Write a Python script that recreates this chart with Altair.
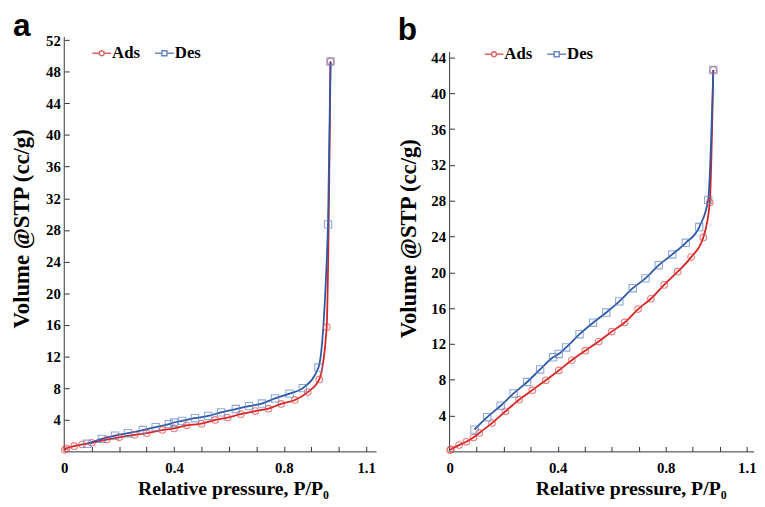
import altair as alt
import pandas as pd

SERIES = ["Ads", "Des"]
X_LABELS = [0, 0.4, 0.8, 1.1]
X_TICKS = [0.1, 0.2, 0.3, 0.4, 0.5, 0.6, 0.7, 0.8, 0.9, 1.0, 1.1]
A_Y_TICKS = [4, 8, 12, 16, 20, 24, 28, 32, 36, 40, 44, 48, 52]
B_Y_TICKS = [4, 8, 12, 16, 20, 24, 28, 32, 36, 40, 44]
A_AXIS_TOP = 52.4
B_AXIS_TOP = 44.6

# Panel a
a_ads_x = [0.002, 0.008, 0.036, 0.065, 0.10, 0.155, 0.20, 0.256, 0.30, 0.357, 0.40, 0.446,
           0.50, 0.55, 0.595, 0.643, 0.696, 0.744, 0.79, 0.84, 0.887, 0.929, 0.956, 0.970]
a_ads_y = [0.20, 0.38, 0.66, 0.87, 1.08, 1.49, 1.78, 2.10, 2.30, 2.70, 2.90, 3.30,
           3.50, 3.98, 4.27, 4.70, 5.10, 5.40, 6.00, 6.50, 7.50, 9.10, 15.7, 49.3]
a_des_x = [0.083, 0.137, 0.185, 0.232, 0.286, 0.333, 0.381, 0.40, 0.429, 0.476, 0.524,
           0.571, 0.625, 0.673, 0.72, 0.768, 0.821, 0.869, 0.926, 0.961, 0.970]
a_des_y = [0.96, 1.58, 1.99, 2.30, 2.70, 3.07, 3.44, 3.65, 3.86, 4.19, 4.48,
           4.93, 5.35, 5.72, 6.05, 6.70, 7.30, 8.00, 10.6, 28.7, 49.3]

# Panel b
b_ads_x = [0.002, 0.005, 0.035, 0.062, 0.088, 0.11, 0.157, 0.207, 0.257, 0.306, 0.356, 0.404,
           0.452, 0.502, 0.552, 0.60, 0.648, 0.698, 0.745, 0.794, 0.844, 0.894, 0.939, 0.963, 0.976]
b_ads_y = [0.15, 0.22, 0.70, 1.07, 1.54, 2.06, 3.16, 4.48, 5.77, 6.84, 7.94, 9.04,
           10.18, 11.25, 12.27, 13.38, 14.40, 15.90, 17.05, 18.60, 20.07, 21.70, 23.90, 27.8, 42.6]
b_des_x = [0.092, 0.139, 0.189, 0.237, 0.287, 0.335, 0.383, 0.404, 0.431, 0.481, 0.531,
           0.58, 0.628, 0.678, 0.725, 0.774, 0.824, 0.874, 0.924, 0.957, 0.976]
b_des_y = [2.43, 3.82, 5.10, 6.47, 7.75, 9.15, 10.51, 10.88, 11.61, 13.09, 14.37,
           15.51, 16.76, 18.23, 19.33, 20.80, 22.00, 23.30, 25.06, 28.1, 42.6]

RED_LINE = "#d42424"
RED_MARK = "#e04a4a"
BLUE_LINE = "#2d58a6"
BLUE_MARK = "#5f86c8"
AX = "#333333"
SERIF = "Liberation Serif"

# legend symbols: a short line with a small open marker on it
PATH_CIRCLE = ("M-1,0H-0.27M0.27,0H1M0.27,0L0.234,0.135L0.135,0.234L0,0.27L-0.135,0.234"
               "L-0.234,0.135L-0.27,0L-0.234,-0.135L-0.135,-0.234L0,-0.27L0.135,-0.234"
               "L0.234,-0.135Z")
PATH_SQUARE = "M-1,0H-0.27M0.27,0H1M-0.27,-0.27H0.27V0.27H-0.27Z"


def panel(letter, ads_x, ads_y, des_x, des_y, xmax, ymax, axis_top, yticks, width, height,
          title_dx, title_offset, leg_x, leg_y, xt_x, xt_y, yt_x, yt_y):
    ads = pd.DataFrame({"p": ads_x, "v": ads_y})
    des = pd.DataFrame({"p": des_x, "v": des_y})
    xs = alt.Scale(domain=[0, xmax], nice=False, zero=False)
    ys = alt.Scale(domain=[0, ymax], nice=False, zero=False)

    x_main = alt.X("p:Q", scale=xs, axis=alt.Axis(
        values=X_LABELS, labelExpr="format(datum.value, '.1~f')", ticks=False,
        tickSize=0, grid=False, domainColor=AX, domainWidth=1, labelFont=SERIF,
        labelFontWeight="bold", labelFontSize=15, labelColor="black", labelPadding=9,
        labelFlush=False, labelOverlap=False, title="Relative pressure, P/P\u2080",
        titleFont=SERIF, titleFontSize=20, titleFontWeight="bold", titleColor="black",
        titleX=xt_x, titleY=xt_y, titleAlign="center", titleBaseline="alphabetic"))
    y_main = alt.Y("v:Q", scale=ys, axis=alt.Axis(
        values=yticks, format="d", ticks=False, tickSize=0, grid=False,
        domain=False, labelFont=SERIF, labelFontWeight="bold",
        labelFontSize=15, labelColor="black", labelPadding=4, labelFlush=False,
        labelOverlap=False, title="Volume @STP (cc/g)", titleFont=SERIF,
        titleFontSize=23, titleFontWeight="bold", titleColor="black",
        titleX=yt_x, titleY=yt_y, titleAlign="center", titleBaseline="middle",
        titleAngle=270))
    x_tick = alt.X("p:Q", scale=xs, axis=alt.Axis(
        orient="top", offset=-height, values=X_TICKS, labels=False, domain=False,
        ticks=True, tickSize=5, tickColor=AX, tickWidth=1, grid=False, title=None))
    y_tick = alt.Y("v:Q", scale=ys, axis=alt.Axis(
        orient="right", offset=-width, values=yticks, labels=False, domain=False,
        ticks=True, tickSize=5, tickColor=AX, tickWidth=1, grid=False, title=None))
    x_none = alt.X("p:Q", scale=xs, axis=None)
    y_none = alt.Y("v:Q", scale=ys, axis=None)

    # left axis line, from 0 up to the top of the axis
    y_axis_line = alt.Chart(pd.DataFrame({"p": [0], "v": [0], "v2": [axis_top]})).mark_rule(
        color=AX, strokeWidth=1).encode(x=x_none, y=y_none, y2="v2:Q")
    l_ads = alt.Chart(ads).mark_line(color=RED_LINE, strokeWidth=1.8,
                                     interpolate="monotone").encode(x=x_main, y=y_main)
    l_des = alt.Chart(des).mark_line(color=BLUE_LINE, strokeWidth=1.8,
                                     interpolate="monotone").encode(x=x_tick, y=y_tick)
    p_ads = alt.Chart(ads).mark_point(shape="circle", filled=False, color=RED_MARK,
                                      size=45, strokeWidth=1.1).encode(x=x_none, y=y_none)
    p_des = alt.Chart(des).mark_point(shape="square", filled=False, color=BLUE_MARK,
                                      size=55, strokeWidth=1.1).encode(x=x_none, y=y_none)

    leg = alt.Legend(orient="none", legendX=leg_x, legendY=leg_y, direction="horizontal",
                     title=None, symbolSize=361, symbolStrokeWidth=1.5,
                     symbolFillColor="transparent", labelFont=SERIF,
                     labelFontWeight="bold", labelFontSize=17, labelColor="black",
                     labelOffset=0, columnPadding=11.5, padding=0)
    l_leg = alt.Chart(pd.DataFrame({"s": SERIES})).transform_filter("false").mark_point(
        filled=False, strokeWidth=1.5).encode(
        color=alt.Color("s:N", scale=alt.Scale(domain=SERIES, range=[RED_LINE, BLUE_LINE]),
                        legend=leg),
        shape=alt.Shape("s:N", scale=alt.Scale(domain=SERIES,
                                               range=[PATH_CIRCLE, PATH_SQUARE]),
                        legend=leg))
    return alt.layer(y_axis_line, l_ads, l_des, p_ads, p_des, l_leg
                     ).resolve_axis(x="independent", y="independent").properties(
        width=width, height=height,
        title=alt.TitleParams(text=letter, anchor="start", frame="group", dx=title_dx,
                              fontSize=32, font="Liberation Sans", fontWeight="bold",
                              color="black", offset=title_offset, baseline="alphabetic"))


pa = panel("a", a_ads_x, a_ads_y, a_des_x, a_des_y, 1.136, 52.4, A_AXIS_TOP, A_Y_TICKS,
           316, 420, -52, -35, 27.5, 5.8, 171, 44, -43.5, 194)
pb = panel("b", b_ads_x, b_ads_y, b_des_x, b_des_y, 1.125, 46.3, B_AXIS_TOP, B_Y_TICKS,
           308, 420, -52.5, -35, 34.5, 6.8, 183.5, 44, -41.5, 204)

chart = alt.hconcat(pa, pb, spacing=21.5).resolve_scale(
    color="independent", shape="independent").configure_view(
    stroke=None).properties(padding={"left": 2, "top": -1, "right": 0, "bottom": 0})

chart.save("out.html", embed_options={"renderer": "svg", "actions": False})
